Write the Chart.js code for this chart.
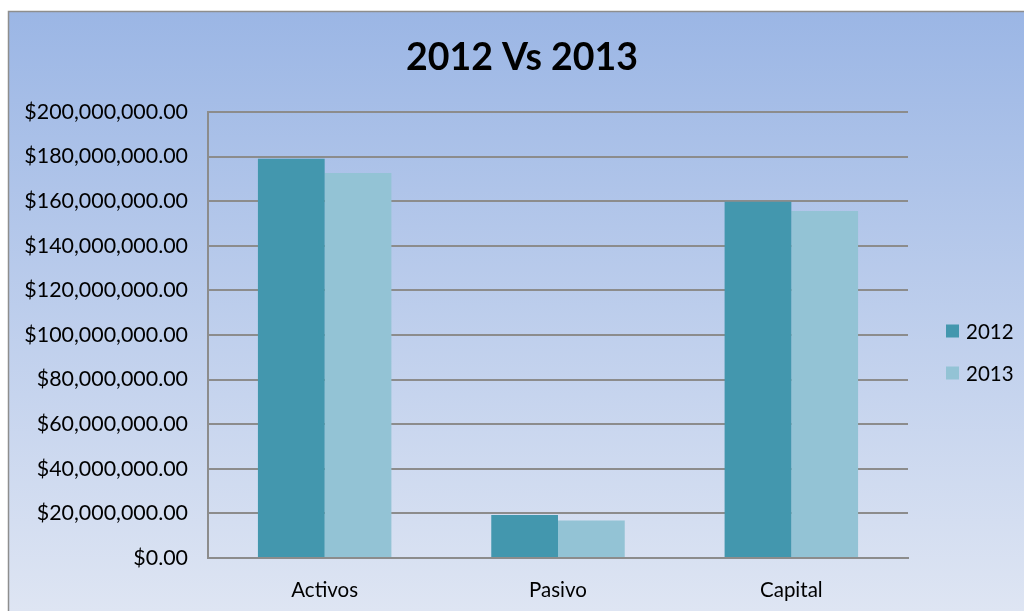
<!DOCTYPE html>
<html><head><meta charset="utf-8">
<script src="https://cdn.jsdelivr.net/npm/chart.js@4.4.1/dist/chart.umd.min.js"></script>
<style>html,body{margin:0;padding:0;background:#fff}#wrap{width:1024px;height:611px;position:relative}</style>
</head><body><div id="wrap"><canvas id="c" width="1024" height="611"></canvas></div>
<script>
const titleText = "2012 Vs 2013";
const categories = ["Activos", "Pasivo", "Capital"];
const seriesNames = ["2012", "2013"];
const values2012 = [179000000, 19300000, 159700000];
const values2013 = [172600000, 16800000, 155600000];
const seriesColors = ["#4397ae", "#93c3d5"];
const yMin = 0, yMax = 200000000, yStep = 20000000;

const fmt = v => "$" + Number(v).toLocaleString("en-US", {minimumFractionDigits: 2, maximumFractionDigits: 2});
const FONT = "Lato, 'Open Sans', sans-serif";

const bgPlugin = {
  id: "bg",
  beforeDraw(chart) {
    const ctx = chart.ctx;
    ctx.save();
    ctx.fillStyle = "#ffffff";
    ctx.fillRect(0, 0, chart.width, chart.height);
    const g = ctx.createLinearGradient(0, 11, 0, 611);
    g.addColorStop(0, "#9bb6e5");
    g.addColorStop(1, "#dee5f3");
    ctx.fillStyle = g;
    ctx.fillRect(8.5, 11.5, 1030, 620);
    ctx.strokeStyle = "#8e8e8e";
    ctx.lineWidth = 1.5;
    ctx.strokeRect(8.5, 11.5, 1030, 620);
    ctx.restore();
  },
  afterDraw(chart) {
    const ctx = chart.ctx;
    ctx.save();
    ctx.fillStyle = "#000";
    ctx.font = "bold 37.5px " + FONT;
    ctx.textAlign = "center";
    ctx.textBaseline = "middle";
    ctx.fillText(titleText, 522, 58);
    // legend
    ctx.font = "20.5px " + FONT;
    ctx.textAlign = "left";
    chart.data.datasets.forEach((ds, i) => {
      const cy = 331 + i * 42;
      ctx.fillStyle = ds.backgroundColor;
      ctx.fillRect(946, cy - 6.5, 13, 13);
      ctx.fillStyle = "#000";
      ctx.fillText(ds.label, 966, cy + 1);
    });
    ctx.restore();
  }
};

new Chart(document.getElementById("c"), {
  type: "bar",
  data: {
    labels: categories,
    datasets: [
      {label: seriesNames[0], data: values2012, backgroundColor: seriesColors[0]},
      {label: seriesNames[1], data: values2013, backgroundColor: seriesColors[1]}
    ]
  },
  options: {
    responsive: false,
    animation: false,
    layout: {padding: {left: 8, right: 116, top: 112, bottom: 0}},
    plugins: {legend: {display: false}, title: {display: false}, tooltip: {enabled: false}},
    datasets: {bar: {categoryPercentage: 0.572, barPercentage: 1.0}},
    scales: {
      x: {
        grid: {display: false, drawTicks: false},
        border: {color: "#8c8c8c", width: 2},
        ticks: {color: "#000", font: {family: FONT, size: 20.5}, padding: 20},
        afterFit(s) { s.height = 53; }
      },
      y: {
        min: yMin, max: yMax,
        grid: {color: "#8c8c8c", lineWidth: 2, drawTicks: false},
        border: {color: "#8c8c8c", width: 2},
        ticks: {stepSize: yStep, color: "#000", font: {family: FONT, size: 21.4}, padding: 20, callback: v => fmt(v)},
        afterFit(s) { s.width = 200; }
      }
    }
  },
  plugins: [bgPlugin]
});
</script></body></html>
